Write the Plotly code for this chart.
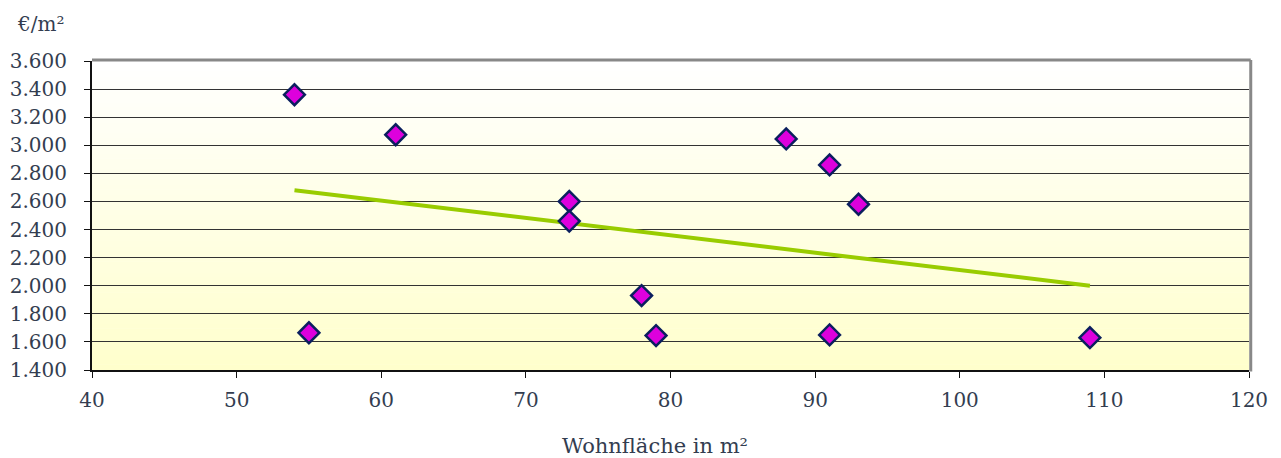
import plotly.graph_objects as go

# Data
wohnflaeche = [54, 55, 61, 73, 73, 78, 79, 88, 91, 91, 93, 109]
preis_qm = [3360, 1665, 3075, 2600, 2460, 1930, 1645, 3045, 2860, 1650, 2580, 1630]
trend_x = [54, 109]
trend_y = [2680, 2000]

x_ticks = [40, 50, 60, 70, 80, 90, 100, 110, 120]
y_ticks = [1400, 1600, 1800, 2000, 2200, 2400, 2600, 2800, 3000, 3200, 3400, 3600]

W, H = 1281, 458
L, R, T, B = 92, 32, 61, 88
FONT = "DejaVu Serif"
TXT = "#333d50"
FS = 20

fig = go.Figure()
fig.add_trace(go.Scatter(x=trend_x, y=trend_y, mode="lines",
                         line=dict(color="#99CC00", width=4), hoverinfo="skip"))
fig.add_trace(go.Scatter(x=wohnflaeche, y=preis_qm, mode="markers",
                         marker=dict(symbol="diamond", size=16, color="#DD00DD",
                                     line=dict(color="#0b1f5e", width=2.5))))

shapes = []
# vertical gradient background: white at top -> light yellow at bottom
n = 60
def mix(t):
    c0 = (255, 255, 255)
    c1 = (255, 255, 204)
    return "rgb(%d,%d,%d)" % tuple(round(a + (b - a) * t) for a, b in zip(c0, c1))
for i in range(n):
    y0 = i / n
    y1 = (i + 1) / n
    shapes.append(dict(type="rect", xref="x domain", yref="y domain",
                       x0=0, x1=1, y0=y0, y1=y1 + 0.002, layer="below",
                       line=dict(width=0), fillcolor=mix(1 - (i + 0.5) / n)))
# gray frame top & right
shapes.append(dict(type="line", xref="x domain", yref="y domain", x0=0, x1=1.0015, y0=1.003, y1=1.003,
                   line=dict(color="#888888", width=3), layer="above"))
shapes.append(dict(type="line", xref="x domain", yref="y domain", x0=1.0015, x1=1.0015, y0=-0.005, y1=1.003,
                   line=dict(color="#888888", width=3), layer="above"))

fig.update_layout(
    width=W, height=H,
    margin=dict(l=L, r=R, t=T, b=B, autoexpand=False),
    paper_bgcolor="white", plot_bgcolor="rgba(0,0,0,0)",
    showlegend=False,
    separators=",.",
    font=dict(family=FONT, color=TXT, size=FS),
    shapes=shapes,
    xaxis=dict(range=[40, 120], tickvals=x_ticks, showgrid=False, zeroline=False,
               showline=True, linecolor="#111111", linewidth=2, automargin=False,
               ticks="outside", ticklen=6, tickcolor="#111111", tickwidth=1,
               tickfont=dict(family=FONT, color=TXT, size=FS), ticklabelstandoff=5),
    yaxis=dict(range=[1400, 3600], tickvals=y_ticks, tickformat=",.0f",
               showgrid=True, gridcolor="#333333", gridwidth=1, zeroline=False,
               showline=True, linecolor="#111111", linewidth=2, automargin=False,
               ticks="outside", ticklen=6, tickcolor="#111111", tickwidth=1,
               tickfont=dict(family=FONT, color=TXT, size=FS), ticklabelstandoff=13),
    annotations=[
        dict(text="€/m²", xref="paper", yref="paper", x=(40 - L) / (W - L - R),
             y=1 + (T - 24) / (H - T - B), showarrow=False, xanchor="center", yanchor="middle",
             font=dict(family=FONT, color=TXT, size=FS)),
        dict(text="Wohnfläche in m²", xref="paper", yref="paper", x=(655 - L) / (W - L - R),
             y=-(446 - (H - B)) / (H - T - B), showarrow=False, xanchor="center", yanchor="middle",
             font=dict(family=FONT, color=TXT, size=21)),
    ],
)

fig.write_html("out.html", config={"displayModeBar": False},
               post_script="document.body.style.margin='0';document.body.style.overflow='hidden';")
